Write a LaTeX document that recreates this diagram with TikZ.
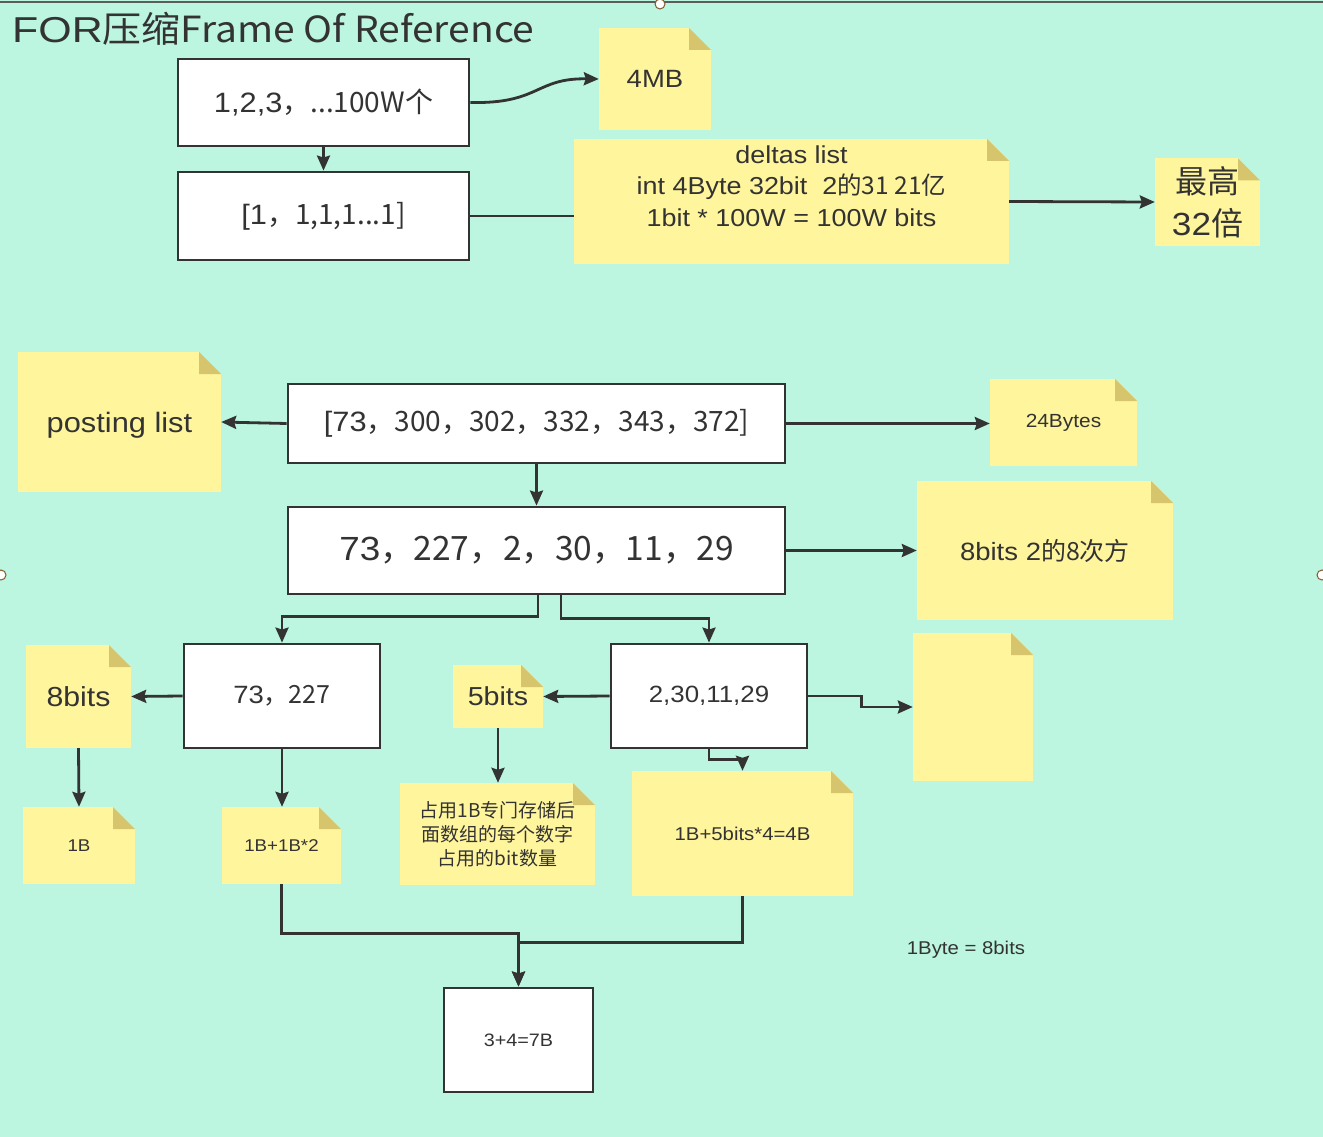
\documentclass[tikz,border=0pt]{standalone}
\usepackage{fontspec}
\setmainfont{Liberation Sans}[FakeStretch=1.1]
\newfontfamily\cjk{Noto Sans CJK SC}
\usetikzlibrary{arrows.meta,calc}
\definecolor{bgc}{HTML}{BCF5E0}
\definecolor{notec}{HTML}{FFF59D}
\definecolor{foldc}{HTML}{D6C56C}
\definecolor{inkc}{HTML}{333333}
\newcommand\fsz[2]{\fontsize{#1}{#2}\selectfont}
\newlength\foldsz \setlength\foldsz{22pt}
\begin{document}
\begin{tikzpicture}[x=1pt,y=-1pt,
  box/.style={draw=inkc, line width=2.8pt, fill=white, inner sep=0pt, text=inkc, align=center},
  note/.style={fill=notec, inner sep=0pt, text=inkc, align=center,
    path picture={
      \fill[bgc] ([xshift=-\foldsz]path picture bounding box.north east) -- ([xshift=2pt,yshift=2pt]path picture bounding box.north east) -- ([yshift=-\foldsz]path picture bounding box.north east) -- cycle;
      \fill[foldc] ([xshift=-\foldsz]path picture bounding box.north east) -- ([xshift=-\foldsz,yshift=-\foldsz]path picture bounding box.north east) -- ([yshift=-\foldsz]path picture bounding box.north east) -- cycle;
    }},
  arr/.style={draw=inkc, line width=2.8pt, -{Stealth[length=15pt,width=13pt,inset=2pt]}},
  ln/.style={draw=inkc, line width=2.8pt}]
\fill[bgc] (0,0) rectangle (1323,1137);
\useasboundingbox (0,0) rectangle (1323,1137);
% selection frame artifacts
\draw[inkc!80, line width=2pt] (0,2) -- (1323,2);
\draw[fill=white, draw=brown!70!black, line width=1pt] (660,4) circle (5);
\draw[fill=white, draw=brown!70!black, line width=1pt] (1,575) circle (5);
\draw[fill=white, draw=brown!70!black, line width=1pt] (1322,575) circle (5);

% title
\node[anchor=west, text=inkc, font=\fsz{36}{42}, inner sep=0pt] (title) at (12,29) {\scalebox{1.083}[1]{FOR\cjk{压缩}Frame Of Reference}};

% top part
\node[box, minimum width=291pt, minimum height=87pt, font=\fsz{28}{32}] (A) at (323.5,102.5) {1,2,3\cjk{，}...100W\cjk{个}};
\node[box, minimum width=291pt, minimum height=88pt, font=\fsz{28}{32}] (B) at (323.5,216) {[1\cjk{，}1,1,1...1]};
\node[note, minimum width=112pt, minimum height=102pt, font=\fsz{25}{28}] (mb) at (655,79) {4MB};
\node[note, minimum width=435pt, minimum height=125pt, font=\fsz{24.5}{31.5}] (delta) at (791.5,201.5) {deltas list\\int 4Byte 32bit~~2\cjk{的}31 21\cjk{亿}\\1bit * 100W = 100W bits\\\mbox{}};
\node[note, minimum width=105pt, minimum height=87pt, font=\fsz{32}{42}] (top) at (1207.5,202) {\cjk{最高}\\32\cjk{倍}};

\draw[arr] (A) -- (B);
\draw[arr] (A.east) .. controls (540,104) and (535,78) .. (mb.west);
\draw[ln] (B.east) -- (B.east -| delta.west);
\draw[arr] (delta.east) -- (top.west);

% middle part
\node[note, minimum width=203pt, minimum height=140pt, font=\fsz{28}{32}] (post) at (119.5,422) {\raisebox{-10pt}[0pt][0pt]{posting list}};
\node[box, minimum width=497pt, minimum height=79pt, font=\fsz{28}{32}] (C) at (536.5,423.5) {[73\cjk{，}300\cjk{，}302\cjk{，}332\cjk{，}343\cjk{，}372]};
\node[note, minimum width=147pt, minimum height=87pt, font=\fsz{19}{22}] (b24) at (1063.5,422.5) {24Bytes};
\node[box, minimum width=497pt, minimum height=87pt, font=\fsz{33.5}{38}] (D) at (536.5,550.5) {73\cjk{，}227\cjk{，}2\cjk{，}30\cjk{，}11\cjk{，}29};
\node[note, minimum width=256pt, minimum height=139pt, font=\fsz{25}{28}] (b8) at (1045,550.5) {8bits 2\cjk{的}8\cjk{次方}};

\draw[arr] (C.west) -- (post.east);
\draw[arr] (C.east) -- (C.east -| b24.west);
\draw[arr] (C.south) -- (D.north);
\draw[arr] (D.east) -- (b8.west);

% lower part
\node[box, minimum width=196pt, minimum height=104pt, font=\fsz{25}{28}] (E) at (282,696) {73\cjk{，}227};
\node[box, minimum width=196pt, minimum height=104pt, font=\fsz{23.5}{28}] (F) at (709,696) {2,30,11,29};
\node[note, minimum width=105pt, minimum height=103pt, font=\fsz{27.5}{30}] (e8) at (78.5,696.5) {8bits};
\node[note, minimum width=112pt, minimum height=77pt, font=\fsz{17}{20}] (b1) at (79,845.5) {1B};
\node[note, minimum width=119pt, minimum height=77pt, font=\fsz{17}{20}] (b12) at (281.5,845.5) {1B+1B*2};
\node[note, minimum width=90pt, minimum height=63pt, font=\fsz{26}{28}] (f5) at (498,696.5) {5bits};
\node[note, minimum width=195pt, minimum height=102pt, font=\fsz{19}{24}] (occ) at (497.5,834) {\cjk{占用}1B\cjk{专门存储后}\\\cjk{面数组的每个数字}\\\cjk{占用的}bit\cjk{数量}};
\node[note, minimum width=221pt, minimum height=125pt, font=\fsz{18.5}{20}] (b45) at (742.5,833.5) {1B+5bits*4=4B};
\node[note, minimum width=120pt, minimum height=148pt] (empty) at (973,707) {};
\node[box, minimum width=149pt, minimum height=104pt, font=\fsz{18}{20}] (G) at (518.5,1040) {3+4=7B};
\node[text=inkc, font=\fsz{18.5}{20}, inner sep=0pt] (byte) at (966,950) {1Byte = 8bits};

\draw[arr] (D.south) ++(1.5,0) -- ++(0,21) -| (E.north);
\draw[arr] ([xshift=24.5pt]D.south) -- ++(0,23) -| (F.north);
\draw[arr] (E.west) -- (e8.east);
\draw[arr] (e8.south) -- (b1.north);
\draw[arr] (E.south) -- (E.south |- b12.north);
\draw[arr] (F.west) -- (f5.east);
\draw[arr] (f5.south) -- (f5.south |- occ.north);
\draw[arr] (F.south) -- ++(0,10) -| (b45.north);
\draw[arr] (F.east) -- ++(53,0) |- (empty.west);
\draw[arr] (b12.south) -- ++(0,49) -| (G.north);
\draw[arr] (b45.south) -- ++(0,46) -| (G.north);
\end{tikzpicture}
\end{document}
